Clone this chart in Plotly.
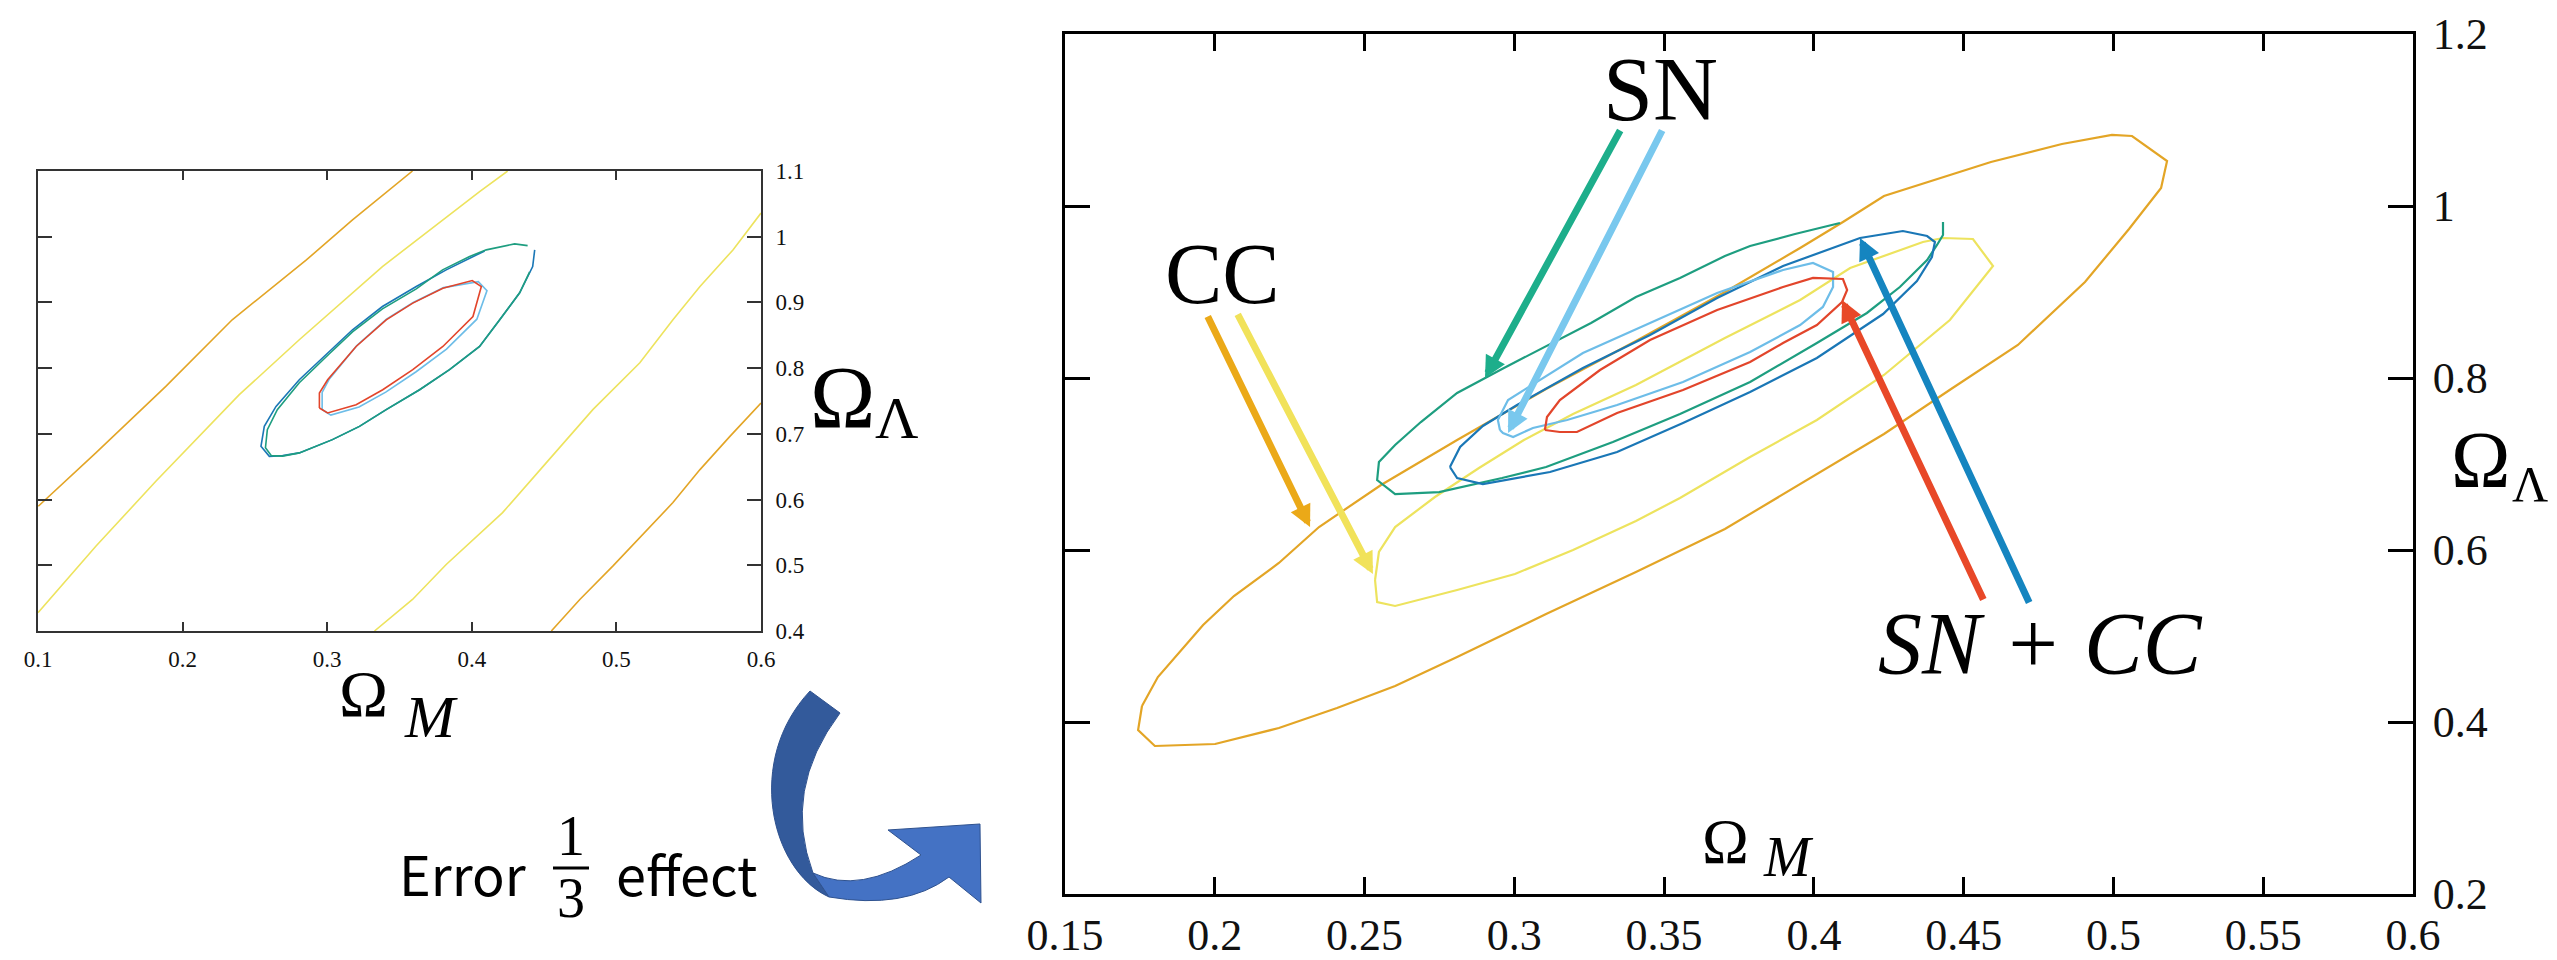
import plotly.graph_objects as go

W, H = 2557, 960

# ---------------- zoomed panel (right) : confidence contours ----------------
# CC, outer contour
cc_outer_x = [0.1757, 0.1744, 0.1800, 0.2001, 0.2214, 0.2408, 0.2602, 0.2809, 0.3106, 0.3406,
              0.3703, 0.4010, 0.4234, 0.4458, 0.4681, 0.4905, 0.5052, 0.5159, 0.5179, 0.5062,
              0.4995, 0.4828, 0.4591, 0.4234, 0.4097, 0.3954, 0.3703, 0.3406, 0.3106, 0.2809,
              0.2555, 0.2348, 0.2214, 0.2064, 0.1961, 0.1810]
cc_outer_y = [0.4186, 0.3907, 0.3721, 0.3744, 0.3930, 0.4163, 0.4419, 0.4756, 0.5256, 0.5744,
              0.6244, 0.6884, 0.7349, 0.7872, 0.8384, 0.9116, 0.9733, 1.0209, 1.0523, 1.0814,
              1.0826, 1.0721, 1.0512, 1.0116, 0.9814, 0.9512, 0.9000, 0.8430, 0.7872, 0.7279,
              0.6756, 0.6267, 0.5849, 0.5465, 0.5128, 0.4523]
# CC, inner contour
cc_inner_x = [0.2535, 0.2542, 0.2602, 0.2809, 0.3002, 0.3196, 0.3406, 0.3553, 0.3787, 0.4010,
              0.4234, 0.4454, 0.4598, 0.4531, 0.4431, 0.4364, 0.4121, 0.3954, 0.3703, 0.3406,
              0.3196, 0.3032, 0.2882, 0.2735, 0.2602, 0.2548]
cc_inner_y = [0.5651, 0.5395, 0.5349, 0.5535, 0.5721, 0.6000, 0.6337, 0.6605, 0.7081, 0.7512,
              0.8035, 0.8674, 0.9302, 0.9616, 0.9628, 0.9581, 0.9279, 0.8907, 0.8465, 0.7919,
              0.7581, 0.7279, 0.6953, 0.6616, 0.6267, 0.5977]
# SN, outer contour (open at the top end)
sn_outer_x = [0.4087, 0.3937, 0.3787, 0.3703, 0.3553, 0.3406, 0.3256, 0.3106, 0.2959, 0.2809,
              0.2688, 0.2602, 0.2548, 0.2542, 0.2602, 0.2749, 0.2959, 0.3106, 0.3329, 0.3553,
              0.3787, 0.4010, 0.4177, 0.4287, 0.4378, 0.4411, 0.4431, 0.4431]
sn_outer_y = [0.9802, 0.9674, 0.9535, 0.9419, 0.9163, 0.8942, 0.8640, 0.8372, 0.8105, 0.7826,
              0.7488, 0.7221, 0.7023, 0.6814, 0.6651, 0.6674, 0.6837, 0.6965, 0.7256, 0.7581,
              0.7953, 0.8407, 0.8756, 0.9058, 0.9372, 0.9547, 0.9663, 0.9814]
# SN, inner contour
sn_inner_x = [0.2952, 0.2945, 0.2979, 0.3042, 0.3229, 0.3453, 0.3677, 0.3897, 0.3997, 0.4064,
              0.4064, 0.4030, 0.3954, 0.3787, 0.3563, 0.3343, 0.3176, 0.3062, 0.2996, 0.2962]
sn_inner_y = [0.7395, 0.7512, 0.7744, 0.7884, 0.8291, 0.8640, 0.8988, 0.9256, 0.9337, 0.9233,
              0.9058, 0.8826, 0.8616, 0.8302, 0.7953, 0.7686, 0.7512, 0.7419, 0.7314, 0.7360]
# SN + CC, outer contour
sncc_outer_x = [0.2785, 0.2809, 0.2895, 0.3119, 0.3343, 0.3563, 0.3787, 0.4010, 0.4231, 0.4344,
                0.4394, 0.4404, 0.4378, 0.4297, 0.4154, 0.3897, 0.3677, 0.3453, 0.3229, 0.3009,
                0.2895, 0.2819]
sncc_outer_y = [0.6965, 0.6837, 0.6767, 0.6907, 0.7140, 0.7477, 0.7837, 0.8233, 0.8744, 0.9128,
                0.9407, 0.9581, 0.9651, 0.9709, 0.9628, 0.9302, 0.8930, 0.8500, 0.8116, 0.7686,
                0.7442, 0.7198]
# SN + CC, inner contour
sncc_inner_x = [0.3102, 0.3109, 0.3152, 0.3286, 0.3453, 0.3677, 0.3897, 0.3997, 0.4097, 0.4111,
                0.4094, 0.4010, 0.3897, 0.3787, 0.3563, 0.3343, 0.3209, 0.3152]
sncc_inner_y = [0.7395, 0.7546, 0.7744, 0.8093, 0.8442, 0.8791, 0.9058, 0.9163, 0.9151, 0.9023,
                0.8884, 0.8616, 0.8407, 0.8186, 0.7860, 0.7593, 0.7372, 0.7372]

# ---------------- original panel (left) ----------------
l_cc_outer_a_x = [0.1002, 0.1400, 0.1884, 0.2343, 0.2856, 0.3175, 0.3590]
l_cc_outer_a_y = [0.5898, 0.6710, 0.7722, 0.8736, 0.9647, 1.0255, 1.1000]
l_cc_outer_b_x = [0.4550, 0.4747, 0.4975, 0.5391, 0.5578, 0.5785, 0.6000]
l_cc_outer_b_y = [0.4000, 0.4480, 0.4987, 0.5954, 0.6456, 0.6962, 0.7470]
l_cc_inner_a_x = [0.1000, 0.1400, 0.1815, 0.2392, 0.2807, 0.3382, 0.4054, 0.4248]
l_cc_inner_a_y = [0.4280, 0.5290, 0.6278, 0.7596, 0.8432, 0.9546, 1.0685, 1.1000]
l_cc_inner_b_x = [0.3327, 0.3590, 0.3823, 0.4213, 0.4516, 0.4837, 0.5162, 0.5391, 0.5578, 0.5806, 0.6000]
l_cc_inner_b_y = [0.4000, 0.4480, 0.5012, 0.5802, 0.6562, 0.7368, 0.8082, 0.8736, 0.9242, 0.9799, 1.0360]
l_sn_outer_x = [0.4386, 0.4296, 0.4100, 0.3985, 0.3798, 0.3616, 0.3382, 0.3175, 0.3015, 0.2807,
                0.2655, 0.2586, 0.2573, 0.2614, 0.2692, 0.2807, 0.3036, 0.3223, 0.3408, 0.3639,
                0.3846, 0.4054, 0.4193, 0.4331, 0.4400]
l_sn_outer_y = [0.9865, 0.9891, 0.9800, 0.9698, 0.9495, 0.9207, 0.8903, 0.8553, 0.8219, 0.7778,
                0.7368, 0.7064, 0.6790, 0.6669, 0.6661, 0.6710, 0.6912, 0.7114, 0.7368, 0.7672,
                0.7976, 0.8330, 0.8736, 0.9146, 0.9465]
l_sncc_outer_x = [0.4089, 0.3823, 0.3616, 0.3382, 0.3175, 0.3015, 0.2807, 0.2646, 0.2565, 0.2542,
                  0.2600, 0.2692, 0.2807, 0.3036, 0.3223, 0.3408, 0.3639, 0.3846, 0.4054, 0.4193,
                  0.4331, 0.4421, 0.4435]
l_sncc_outer_y = [0.9784, 0.9495, 0.9242, 0.8938, 0.8584, 0.8254, 0.7824, 0.7418, 0.7114, 0.6810,
                  0.6658, 0.6669, 0.6710, 0.6912, 0.7114, 0.7368, 0.7672, 0.7976, 0.8330, 0.8736,
                  0.9146, 0.9546, 0.9800]
l_sn_inner_x = [0.2965, 0.3025, 0.3220, 0.3405, 0.3615, 0.3825, 0.4035, 0.4105, 0.4045, 0.3805,
                0.3595, 0.3410, 0.3205, 0.3015, 0.2965]
l_sn_inner_y = [0.7370, 0.7285, 0.7410, 0.7635, 0.7945, 0.8290, 0.8745, 0.9180, 0.9315, 0.9225,
                0.9000, 0.8745, 0.8345, 0.7835, 0.7630]
l_sncc_inner_x = [0.2946, 0.3003, 0.3200, 0.3384, 0.3592, 0.3800, 0.4008, 0.4066, 0.4003, 0.3800,
                  0.3592, 0.3408, 0.3200, 0.3003, 0.2946]
l_sncc_inner_y = [0.7394, 0.7318, 0.7444, 0.7672, 0.7976, 0.8330, 0.8786, 0.9242, 0.9333, 0.9217,
                  0.8989, 0.8736, 0.8330, 0.7824, 0.7622]

# tick values / labels
l_xticks = [0.1, 0.2, 0.3, 0.4, 0.5, 0.6]
l_xlabels = ["0.1", "0.2", "0.3", "0.4", "0.5", "0.6"]
l_yticks = [0.4, 0.5, 0.6, 0.7, 0.8, 0.9, 1.0, 1.1]
l_ylabels = ["0.4", "0.5", "0.6", "0.7", "0.8", "0.9", "1", "1.1"]
r_xticks = [0.15, 0.2, 0.25, 0.3, 0.35, 0.4, 0.45, 0.5, 0.55, 0.6]
r_xlabels = ["0.15", "0.2", "0.25", "0.3", "0.35", "0.4", "0.45", "0.5", "0.55", "0.6"]
r_yticks = [0.2, 0.4, 0.6, 0.8, 1.0, 1.2]
r_ylabels = ["0.2", "0.4", "0.6", "0.8", "1", "1.2"]

# pointer arrows in the zoomed panel: (tail x, tail y, head x, head y)
arrow_sn_outer = (0.3356, 1.0895, 0.2902, 0.8000)
arrow_sn_inner = (0.3496, 1.0895, 0.2979, 0.7360)
arrow_cc_outer = (0.1974, 0.8733, 0.2318, 0.6267)
arrow_cc_inner = (0.2074, 0.8756, 0.2528, 0.5721)
arrow_sncc_inner = (0.4568, 0.5407, 0.4094, 0.8907)
arrow_sncc_outer = (0.4721, 0.5372, 0.4154, 0.9628)

# colours
C_ORANGE = "#E3A526"
C_YELLOW = "#EDE35E"
C_GREEN = "#1E9E80"
C_BLUE = "#1A77B6"
C_LBLUE = "#6DBDE8"
C_RED = "#E2452B"

SERIF = "Liberation Serif"
SANS = "Noto Sans CJK JP"


def closed(xs, ys):
    return list(xs) + [xs[0]], list(ys) + [ys[0]]


fig = go.Figure()


def add_line(xs, ys, color, width, xa, ya):
    fig.add_trace(go.Scatter(x=xs, y=ys, mode="lines", xaxis=xa, yaxis=ya,
                             line=dict(color=color, width=width), hoverinfo="skip",
                             showlegend=False))


# left panel contours
lw = 1.6
add_line(l_cc_outer_a_x, l_cc_outer_a_y, C_ORANGE, lw, "x", "y")
add_line(l_cc_outer_b_x, l_cc_outer_b_y, C_ORANGE, lw, "x", "y")
add_line(l_cc_inner_a_x, l_cc_inner_a_y, C_YELLOW, lw, "x", "y")
add_line(l_cc_inner_b_x, l_cc_inner_b_y, C_YELLOW, lw, "x", "y")
add_line(l_sncc_outer_x, l_sncc_outer_y, C_BLUE, lw, "x", "y")
add_line(l_sn_outer_x, l_sn_outer_y, C_GREEN, lw, "x", "y")
add_line(*closed(l_sn_inner_x, l_sn_inner_y), C_LBLUE, lw, "x", "y")
add_line(*closed(l_sncc_inner_x, l_sncc_inner_y), C_RED, lw, "x", "y")

# right panel contours
rw = 2.2
add_line(*closed(cc_outer_x, cc_outer_y), C_ORANGE, rw, "x2", "y2")
add_line(*closed(cc_inner_x, cc_inner_y), C_YELLOW, rw, "x2", "y2")
add_line(sn_outer_x, sn_outer_y, C_GREEN, rw, "x2", "y2")
add_line(*closed(sncc_outer_x, sncc_outer_y), C_BLUE, rw, "x2", "y2")
add_line(*closed(sn_inner_x, sn_inner_y), C_LBLUE, rw, "x2", "y2")
add_line(*closed(sncc_inner_x, sncc_inner_y), C_RED, rw, "x2", "y2")


def px(X, Y):
    return X / W, 1 - Y / H


def axis_style(color, lwidth, tlen, twidth, fsize, standoff):
    return dict(showline=True, linecolor=color, linewidth=lwidth, mirror="ticks",
                ticks="inside", ticklen=tlen, tickwidth=twidth, tickcolor=color,
                showgrid=False, zeroline=False, ticklabelstandoff=standoff,
                automargin=False,
                tickfont=dict(family=SERIF, size=fsize, color="#111"))


left_x0, left_x1 = px(38, 0)[0], px(761, 0)[0]
left_y0, left_y1 = px(0, 631)[1], px(0, 171)[1]
right_x0, right_x1 = px(1065, 0)[0], px(2413, 0)[0]
right_y0, right_y1 = px(0, 894)[1], px(0, 34)[1]

fig.update_layout(
    width=W, height=H, autosize=False,
    margin=dict(l=0, r=0, t=0, b=0, pad=0),
    paper_bgcolor="white", plot_bgcolor="white",
    showlegend=False,
    xaxis=dict(domain=[left_x0, left_x1], range=[0.1, 0.6], anchor="y",
               tickvals=l_xticks, ticktext=l_xlabels,
               **axis_style("#333", 2, 9, 2, 23, 6)),
    yaxis=dict(domain=[left_y0, left_y1], range=[0.4, 1.1], anchor="x", side="right",
               tickvals=l_yticks, ticktext=l_ylabels,
               **axis_style("#333", 2, 14, 2, 23, 8)),
    xaxis2=dict(domain=[right_x0, right_x1], range=[0.15, 0.6], anchor="y2",
                tickvals=r_xticks, ticktext=r_xlabels,
                **axis_style("#000", 3, 17, 2.5, 44, 0)),
    yaxis2=dict(domain=[right_y0, right_y1], range=[0.2, 1.2], anchor="x2", side="right",
                tickvals=r_yticks, ticktext=r_ylabels,
                **axis_style("#000", 3, 25, 2.5, 44, 8)),
)

annotations = []


def text_at(X, Y, txt, size, family=SERIF, italic=False):
    x, y = px(X, Y)
    if italic:
        txt = "<i>" + txt + "</i>"
    annotations.append(dict(x=x, y=y, xref="paper", yref="paper", text=txt, showarrow=False,
                            xanchor="center", yanchor="middle",
                            font=dict(family=family, size=size, color="#000")))


# axis symbols
text_at(363, 693, "Ω", 66)
text_at(431, 717, "M", 60, italic=True)
text_at(842, 397, "Ω", 88)
text_at(897, 418, "Λ", 60)
text_at(1725, 842, "Ω", 63)
text_at(1788, 857, "M", 56, italic=True)
text_at(2480, 460, "Ω", 80)
text_at(2530, 484, "Λ", 50)

# data-set labels
text_at(1660, 89, "SN", 90)
text_at(1222, 274, "CC", 86)
text_at(2040, 643, "SN + CC", 88, italic=True)

# caption with a stacked fraction
text_at(463, 872, "Error", 54, family=SANS)
text_at(686, 872, "effect", 54, family=SANS)
text_at(571, 836, "1", 56)
text_at(571, 898, "3", 56)

# arrows pointing at the contours
for (tx, ty, hx, hy), col in [(arrow_sn_outer, "#1DAE8B"), (arrow_sn_inner, "#79C8EE"),
                              (arrow_cc_outer, "#EBA918"), (arrow_cc_inner, "#F1E25A"),
                              (arrow_sncc_inner, "#E84828"), (arrow_sncc_outer, "#1585C0")]:
    annotations.append(dict(x=hx, y=hy, ax=tx, ay=ty, xref="x2", yref="y2",
                            axref="x2", ayref="y2", text="", showarrow=True,
                            arrowhead=2, arrowsize=0.62, arrowwidth=7, arrowcolor=col,
                            standoff=0, startstandoff=0))

fig.update_layout(annotations=annotations)

shapes = []
# fraction bar
bx0, by = px(553, 868)
bx1, _ = px(589, 868)
shapes.append(dict(type="line", xref="paper", yref="paper", x0=bx0, x1=bx1, y0=by, y1=by,
                   line=dict(color="#000", width=3)))


def path(cmds):
    out = []
    for c in cmds:
        if isinstance(c, str):
            out.append(c)
        else:
            x, y = px(*c)
            out.append(f"{x:.5f},{y:.5f}")
    return " ".join(out)


# curved ribbon arrow between the panels: darker tail, lighter head
dark = path(["M", (810, 691), "L", (840, 713), "Q", (782, 790), (813, 873),
             "L", (829, 897), "C", (770, 870), (745, 760), (810, 691), "Z"])
light = path(["M", (813, 873), "Q", (860, 895), (921, 855), "L", (888, 830), "L", (980, 824),
              "L", (981, 903), "L", (949, 877), "Q", (905, 910), (829, 897), "Z"])
shapes.append(dict(type="path", xref="paper", yref="paper", path=dark,
                   fillcolor="#335A9B", line=dict(color="#2F528F", width=1)))
shapes.append(dict(type="path", xref="paper", yref="paper", path=light,
                   fillcolor="#4472C4", line=dict(color="#2F528F", width=1)))

fig.update_layout(shapes=shapes)

fig.write_html("out.html")
